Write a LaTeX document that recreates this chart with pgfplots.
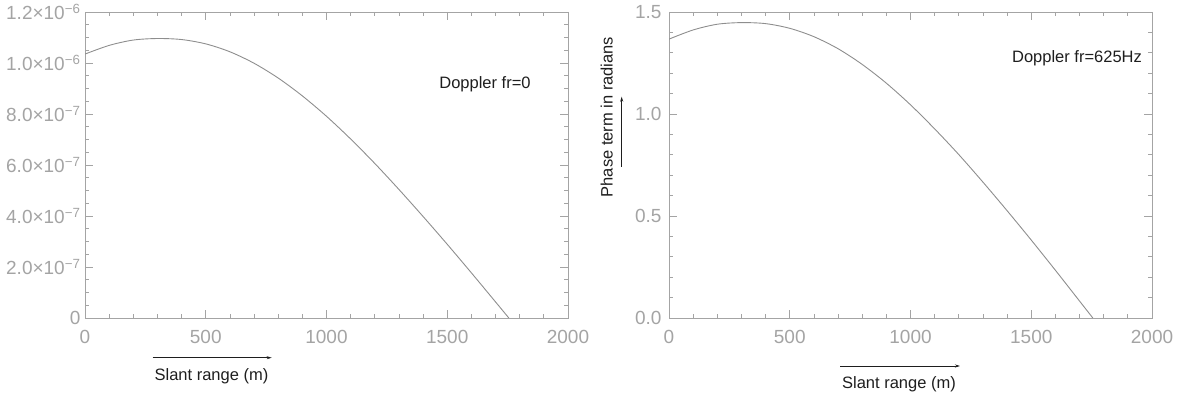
\documentclass[border=0pt]{standalone}
\usepackage{fontspec}
\setmainfont{Liberation Sans}
\usepackage{pgfplots}
\usepackage{pgfplotstable}
\pgfplotsset{compat=1.18}
\usetikzlibrary{arrows.meta}

\definecolor{framegray}{HTML}{A4A4A4}
\definecolor{curvegray}{HTML}{8E8E8E}
\definecolor{labelink}{HTML}{1E1E1E}

% phase term at zero Doppler (slant range in m)
\pgfplotstableread{
x     y
0     1.035e-6
100   1.069e-6
200   1.090e-6
300   1.096e-6
400   1.092e-6
500   1.075e-6
600   1.044e-6
700   0.999e-6
800   0.941e-6
900   0.871e-6
1000  0.791e-6
1100  0.702e-6
1200  0.606e-6
1300  0.504e-6
1400  0.398e-6
1500  0.289e-6
1600  0.177e-6
1700  0.063e-6
1755  0
}\phasezero

% phase term at fr = 625 Hz, radians
\pgfplotstableread{
x     y
0     1.367
100   1.412
200   1.440
300   1.448
400   1.443
500   1.420
600   1.379
700   1.320
800   1.243
900   1.151
1000  1.045
1100  0.927
1200  0.801
1300  0.666
1400  0.526
1500  0.382
1600  0.234
1700  0.083
1755  0
}\phasedop

\pgfplotsset{
  idlframe/.style={
    scale only axis, width=483pt, height=306pt,
    xmin=0, xmax=2000,
    xtick={0,500,1000,1500,2000},
    xticklabels={0,500,1000,1500,2000},
    minor x tick num=4,
    axis line style={framegray, line width=0.8pt},
    every tick/.style={framegray, line width=0.8pt},
    major tick length=8pt, minor tick length=4pt,
    tick align=inside,
    tick label style={text=framegray, font=\fontsize{19}{19}\selectfont},
    /pgf/number format/assume math mode=true,
    xticklabel style={anchor=center, yshift=-19pt},
    scaled ticks=false,
  },
  curve/.style={curvegray, line width=0.9pt, smooth, no markers},
}

\begin{document}
\begin{tikzpicture}[x=1pt, y=1pt]
\useasboundingbox (0,0) rectangle (1179,396);

\begin{axis}[idlframe,
  at={(85pt,78pt)}, anchor=south west,
  ymin=0, ymax=1.2e-6,
  ytick={0,2e-7,4e-7,6e-7,8e-7,1e-6,1.2e-6},
  yticklabels={0,
    2.0×10\textsuperscript{−7},
    4.0×10\textsuperscript{−7},
    6.0×10\textsuperscript{−7},
    8.0×10\textsuperscript{−7},
    1.0×10\textsuperscript{−6},
    1.2×10\textsuperscript{−6}},
  minor y tick num=3,
  yticklabel style={anchor=east, xshift=-1pt},
]
  \addplot[curve] table[x=x, y=y] {\phasezero};
\end{axis}

\begin{axis}[idlframe,
  at={(669pt,78pt)}, anchor=south west,
  ymin=0, ymax=1.5,
  ytick={0,0.5,1,1.5},
  yticklabels={0.0,0.5,1.0,1.5},
  minor y tick num=4,
  yticklabel style={anchor=east, xshift=-4pt},
]
  \addplot[curve] table[x=x, y=y] {\phasedop};
\end{axis}

\begin{scope}[font=\fontsize{16.5}{16.5}\selectfont, text=labelink]
  \node at (485,312) {Doppler fr=0};
  \node at (1077,338) {Doppler fr=625Hz};
  \node at (211.5,20) {Slant range (m)};
  \node at (899,12) {Slant range (m)};
  \node[rotate=90] at (606.7,279) {Phase term in radians};
\end{scope}

\begin{scope}[labelink, line width=0.8pt, -{Stealth[length=5pt, width=3pt]}]
  \draw (152.7,38.3) -- (271.7,38.3);
  \draw (840,30) -- (960,30);
  \draw (621.7,229.3) -- (621.7,299.3);
\end{scope}
\end{tikzpicture}
\end{document}
